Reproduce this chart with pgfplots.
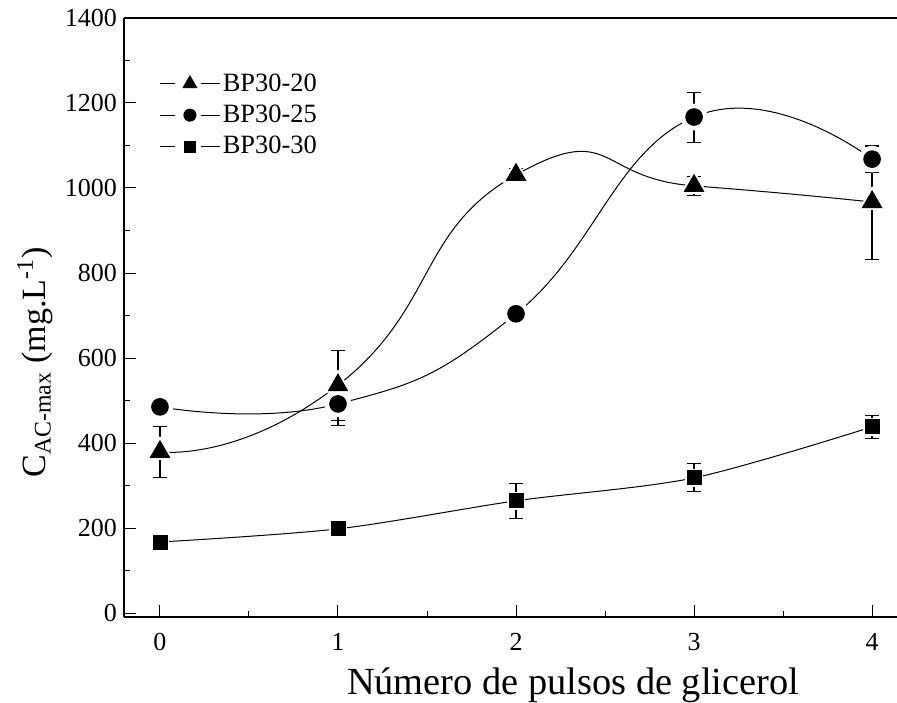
\documentclass[border=0pt]{standalone}
\usepackage{pgfplots}
\pgfplotsset{compat=1.18}
\usepackage{pgfplotstable}
\usepackage{fontspec}
\setmainfont{Liberation Serif}
\pgfplotstableread{
x y e
0 379 61
1 536 83
2 1031 15
3 1005 23
4 967 134
}\tA
\pgfplotstableread{
x y e
0 485 8
1 492 50
2 704 10
3 1167 59
4 1068 31
}\tB
\pgfplotstableread{
x y e
0 167 10
1 198 8
2 264 41
3 318 33
4 438 28
}\tC
\begin{document}
\begin{tikzpicture}
\useasboundingbox (0,0) rectangle (448.5pt,351pt);
\begin{axis}[
  at={(62pt,42.5pt)}, anchor=south west,
  scale only axis, width=386.5pt, height=299.5pt,
  xmin=-0.202, xmax=4.14, ymin=-9.4, ymax=1400,
  axis lines=left, axis line style={-, line width=0.6pt},
  tick align=inside,
  xtick={0,1,2,3,4}, minor xtick={0.5,1.5,2.5,3.5},
  ytick={0,200,...,1400}, minor ytick={100,300,...,1300},
  major tick length=6pt, minor tick length=3pt,
  tick style={black, line width=0.5pt},
  /pgf/number format/assume math mode=true,
  /pgf/number format/set thousands separator={},
  tick label style={font=\fontsize{13}{15.5}\selectfont},
  xticklabel style={yshift=-4.5pt},
  xlabel={Número de pulsos de glicerol},
  xlabel style={font=\fontsize{19.2}{23}\selectfont, at={(rel axis cs:0.581,-0.0835)}, anchor=north, inner sep=0pt},
  ylabel={C\textsubscript{AC-max} (mg.L\textsuperscript{-1})},
  ylabel style={font=\fontsize{17}{20}\selectfont, at={(rel axis cs:-0.1151,0.425)}, anchor=center},
  legend style={at={(rel axis cs:0.0453,0.912)}, anchor=north west, draw=none, fill=none, inner sep=0pt, row sep=3pt, column sep=0pt,
    font=\fontsize{13.2}{16}\selectfont, nodes={inner sep=1.2pt, font=\fontsize{13.2}{16}\selectfont}},
  legend cell align=left,
  legend image code/.code={
    \draw[#1] (0pt,0pt) -- (7.5pt,0pt) (20.5pt,0pt) -- (30pt,0pt);
    \draw[#1] plot coordinates {(15pt,0pt)};
  },
]
% curves
\addplot[black, line width=0.5pt, smooth, tension=1, forget plot] table[x=x,y=y] {\tA};
\addplot[black, line width=0.5pt, smooth, tension=0.8, forget plot] table[x=x,y=y] {\tB};
\addplot[black, line width=0.5pt, smooth, tension=0.5, forget plot] table[x=x,y=y] {\tC};
% error bars
\addplot[black, only marks, mark=none, forget plot, error bars/.cd, y dir=both, y explicit, error bar style={line width=0.6pt, mark size=3.3pt}] table[x=x,y=y,y error=e] {\tA};
\addplot[black, only marks, mark=none, forget plot, error bars/.cd, y dir=both, y explicit, error bar style={line width=0.6pt, mark size=3.3pt}] table[x=x,y=y,y error=e] {\tB};
\addplot[black, only marks, mark=none, forget plot, error bars/.cd, y dir=both, y explicit, error bar style={line width=0.6pt, mark size=3.3pt}] table[x=x,y=y,y error=e] {\tC};
% white gaps round the markers
\addplot[white, only marks, mark=triangle*, mark size=7.5pt, forget plot] table[x=x,y=y] {\tA};
\addplot[white, only marks, mark=*, mark size=6.5pt, forget plot] table[x=x,y=y] {\tB};
\addplot[white, only marks, mark=square*, mark size=4.3pt, forget plot] table[x=x,y=y] {\tC};
% markers
\addplot[black, only marks, mark=triangle*, mark size=5.6pt, forget plot] table[x=x,y=y] {\tA};
\addplot[black, only marks, mark=*, mark size=4.2pt, forget plot] table[x=x,y=y] {\tB};
\addplot[black, only marks, mark=square*, mark size=3.5pt, forget plot] table[x=x,y=y] {\tC};
% legend
\addlegendimage{black, line width=0.5pt, mark=triangle*, mark size=3.9pt}
\addlegendentry{BP30-20}
\addlegendimage{black, line width=0.5pt, mark=*, mark size=3pt}
\addlegendentry{BP30-25}
\addlegendimage{black, line width=0.5pt, mark=square*, mark size=2.75pt}
\addlegendentry{BP30-30}
\end{axis}
\draw[line width=0.6pt] (current axis.north west) -- (current axis.north east);
\end{tikzpicture}
\end{document}
